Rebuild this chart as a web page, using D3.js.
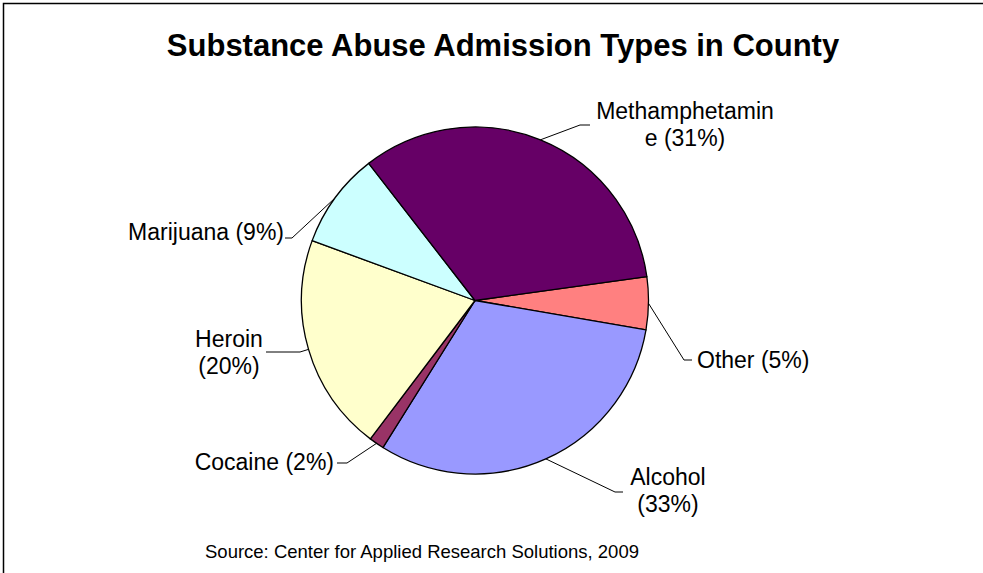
<!DOCTYPE html>
<html>
<head>
<meta charset="utf-8">
<script src="https://cdn.jsdelivr.net/npm/d3@7"></script>
<style>
  body { margin: 0; background: #fff; }
  text { font-family: "Liberation Sans", Arial, sans-serif; fill: #000; }
</style>
</head>
<body>
<script>
// slices in drawing order (clockwise, starting just above 3 o'clock)
const categories = ["Other", "Alcohol", "Cocaine", "Heroin", "Marijuana", "Methamphetamine"];
const values = [4.9, 31.2, 1.4, 20.3, 8.9, 33.3];
const pctLabels = ["5%", "33%", "2%", "20%", "9%", "31%"];
const colors = ["#ff8080", "#9999ff", "#993366", "#ffffcc", "#ccffff", "#660066"];

// label text lines, as wrapped in the chart
const labelLines = [
  ["Other (5%)"],
  ["Alcohol", "(33%)"],
  ["Cocaine (2%)"],
  ["Heroin", "(20%)"],
  ["Marijuana (9%)"],
  ["Methamphetamin", "e (31%)"]
];

// label layout: text anchor point + leader elbow/end
const labelLayout = [
  { x: 697, y: 368, anchor: "start", elbow: [684, 360], end: [692, 360] },
  { x: 668, y: 485, anchor: "middle", elbow: [615, 492], end: [623, 492] },
  { x: 334, y: 470, anchor: "end", elbow: [347, 463], end: [337, 463] },
  { x: 229, y: 347, anchor: "middle", elbow: [300, 352], end: [266, 352] },
  { x: 284, y: 240, anchor: "end", elbow: [292, 238], end: [285, 238] },
  { x: 685, y: 119, anchor: "middle", elbow: [580, 125], end: [590, 125] }
];

const w = 983, h = 573;
const cx = 475, cy = 300.5, r = 173.5;
const startDeg = 82.1;

const svg = d3.select("body").append("svg")
  .attr("width", w)
  .attr("height", h);

// chart frame (only left and top edges are inside the picture)
svg.append("path")
  .attr("d", "M3.5," + h + "V3.5H" + w)
  .attr("fill", "none")
  .attr("stroke", "#000")
  .attr("stroke-width", 1.5);

svg.append("text")
  .attr("x", 503)
  .attr("y", 56)
  .attr("text-anchor", "middle")
  .style("font-size", "31px")
  .style("font-weight", "bold")
  .text("Substance Abuse Admission Types in County");

const pie = d3.pie()
  .sort(null)
  .value(d => d)
  .startAngle(startDeg * Math.PI / 180)
  .endAngle((startDeg + 360) * Math.PI / 180);

const arc = d3.arc().innerRadius(0).outerRadius(r);
const arcs = pie(values);

const g = svg.append("g").attr("transform", `translate(${cx},${cy})`);

g.selectAll("path.slice")
  .data(arcs)
  .enter()
  .append("path")
  .attr("class", "slice")
  .attr("d", arc)
  .attr("fill", (d, i) => colors[i])
  .attr("stroke", "#000")
  .attr("stroke-width", 1.3)
  .attr("stroke-linejoin", "round");

// leader lines from slice mid-point on the rim
svg.selectAll("path.leader")
  .data(arcs)
  .enter()
  .append("path")
  .attr("class", "leader")
  .attr("fill", "none")
  .attr("stroke", "#000")
  .attr("stroke-width", 1)
  .attr("d", (d, i) => {
    const a = (d.startAngle + d.endAngle) / 2;
    const sx = cx + r * Math.sin(a), sy = cy - r * Math.cos(a);
    const L = labelLayout[i];
    return d3.line()([[sx, sy], L.elbow, L.end]);
  });

const labels = svg.selectAll("text.lbl")
  .data(categories)
  .enter()
  .append("text")
  .attr("class", "lbl")
  .attr("x", (d, i) => labelLayout[i].x)
  .attr("y", (d, i) => labelLayout[i].y)
  .attr("text-anchor", (d, i) => labelLayout[i].anchor)
  .style("font-size", "23px");

labels.each(function (d, i) {
  const t = d3.select(this);
  labelLines[i].forEach((ln, j) => {
    t.append("tspan")
      .attr("x", labelLayout[i].x)
      .attr("dy", j === 0 ? 0 : 27)
      .text(ln);
  });
});

svg.append("text")
  .attr("x", 422)
  .attr("y", 558)
  .attr("text-anchor", "middle")
  .style("font-size", "18.5px")
  .text("Source: Center for Applied Research Solutions, 2009");
</script>
</body>
</html>
